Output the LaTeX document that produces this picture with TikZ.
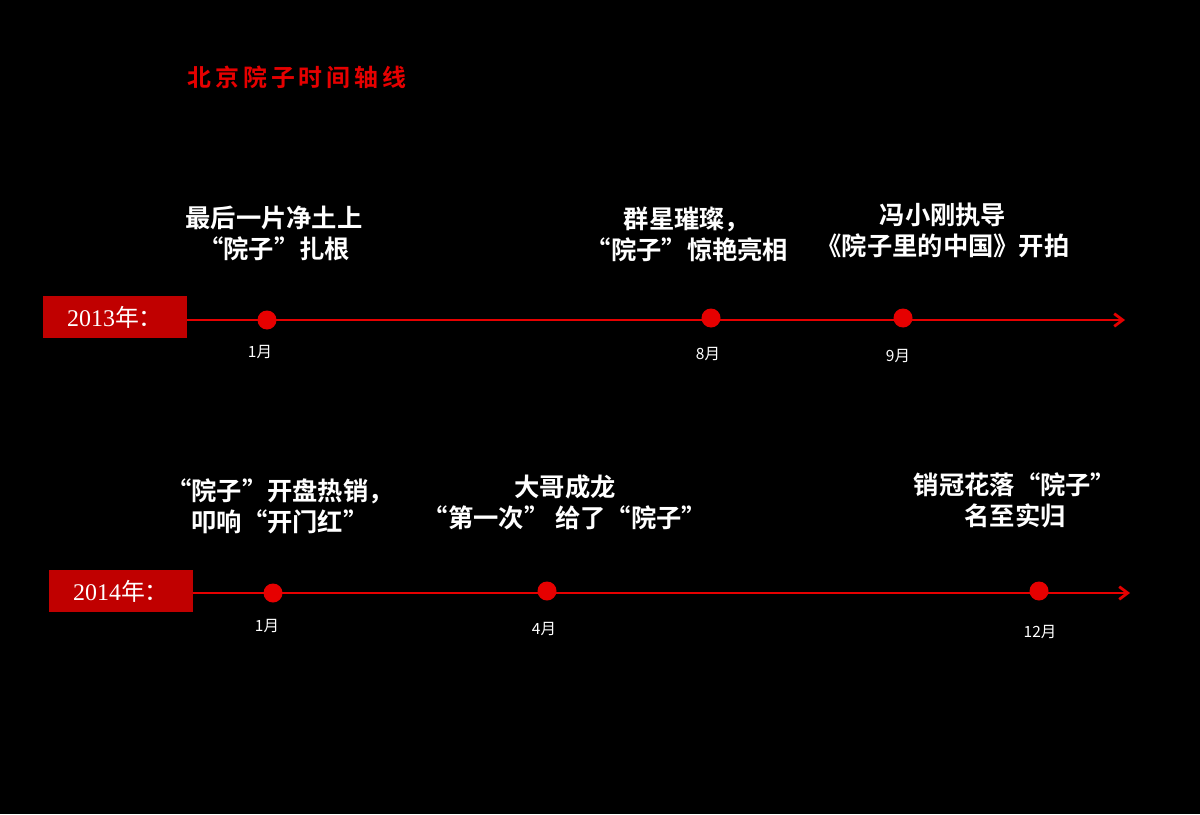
\documentclass[tikz,border=0pt]{standalone}
\usepackage{fontspec}
\setmainfont{Liberation Serif}
\newfontfamily\cjk{Noto Sans CJK SC}
\newfontfamily\cjkb{Noto Sans CJK SC Bold}
\usetikzlibrary{arrows.meta}
\definecolor{tred}{RGB}{230,0,0}
\definecolor{bred}{RGB}{192,0,0}
\tikzset{
 ev/.style={text=white,font=\cjkb\fontsize{18}{22}\selectfont,align=center,inner sep=0},
 mon/.style={text=white,font=\fontsize{11}{13}\selectfont\cjk,inner sep=0},
 yr/.style={fill=bred,text=white,minimum width=144*0.025cm,minimum height=42*0.025cm,font=\fontsize{17}{20}\selectfont,inner sep=0},
 tl/.style={tred,line width=2pt,-{Straight Barb[length=6pt,width=9pt]}},
 dot/.style={circle,fill=tred,minimum size=19*0.025cm,inner sep=0}
}
\begin{document}
\begin{tikzpicture}[x=0.025cm,y=-0.025cm]
\fill[black] (0,0) rectangle (1200,814);
\useasboundingbox (0,0) rectangle (1200,814);
\node[text=tred,font=\cjkb\fontsize{17}{20}\selectfont] (title) at (297,77) {北\,京\,院\,子\,时\,间\,轴\,线};
% 2013
\node[yr] (y1) at (115,317) {2013{\cjk 年：}};
\coordinate (e1) at (1125,320);
\draw[tl] (y1.east|-e1) -- (e1);
\node[dot] (a1) at (267,320) {};
\node[dot] (a2) at (711,318) {};
\node[dot] (a3) at (903,318) {};
\node[mon] (m1) at (260,352) {1月};
\node[mon] (m2) at (708,354) {8月};
\node[mon] (m3) at (898,356) {9月};
\node[ev] (t1) at (274,233) {最后一片净土上\\“院子”扎根};
\node[ev] (t2) at (687,234) {群星璀璨，\\“院子”惊艳亮相};
\node[ev] (t3) at (943,230) {冯小刚执导\\《院子里的中国》开拍};
% 2014
\node[yr] (y2) at (121,591) {2014{\cjk 年：}};
\coordinate (e2) at (1130,593);
\draw[tl] (y2.east|-e2) -- (e2);
\node[dot] (b1) at (273,593) {};
\node[dot] (b2) at (547,591) {};
\node[dot] (b3) at (1039,591) {};
\node[mon] (n1) at (267,626) {1月};
\node[mon] (n2) at (544,629) {4月};
\node[mon] (n3) at (1040,632) {12月};
\node[ev] (s1) at (280,506) {“院子”开盘热销，\\叩响“开门红”};
\node[ev] (s2) at (565,502) {大哥成龙\\“第一次” 给了“院子”};
\node[ev] (s3) at (1015,500) {销冠花落“院子”\\名至实归};
\end{tikzpicture}
\end{document}
